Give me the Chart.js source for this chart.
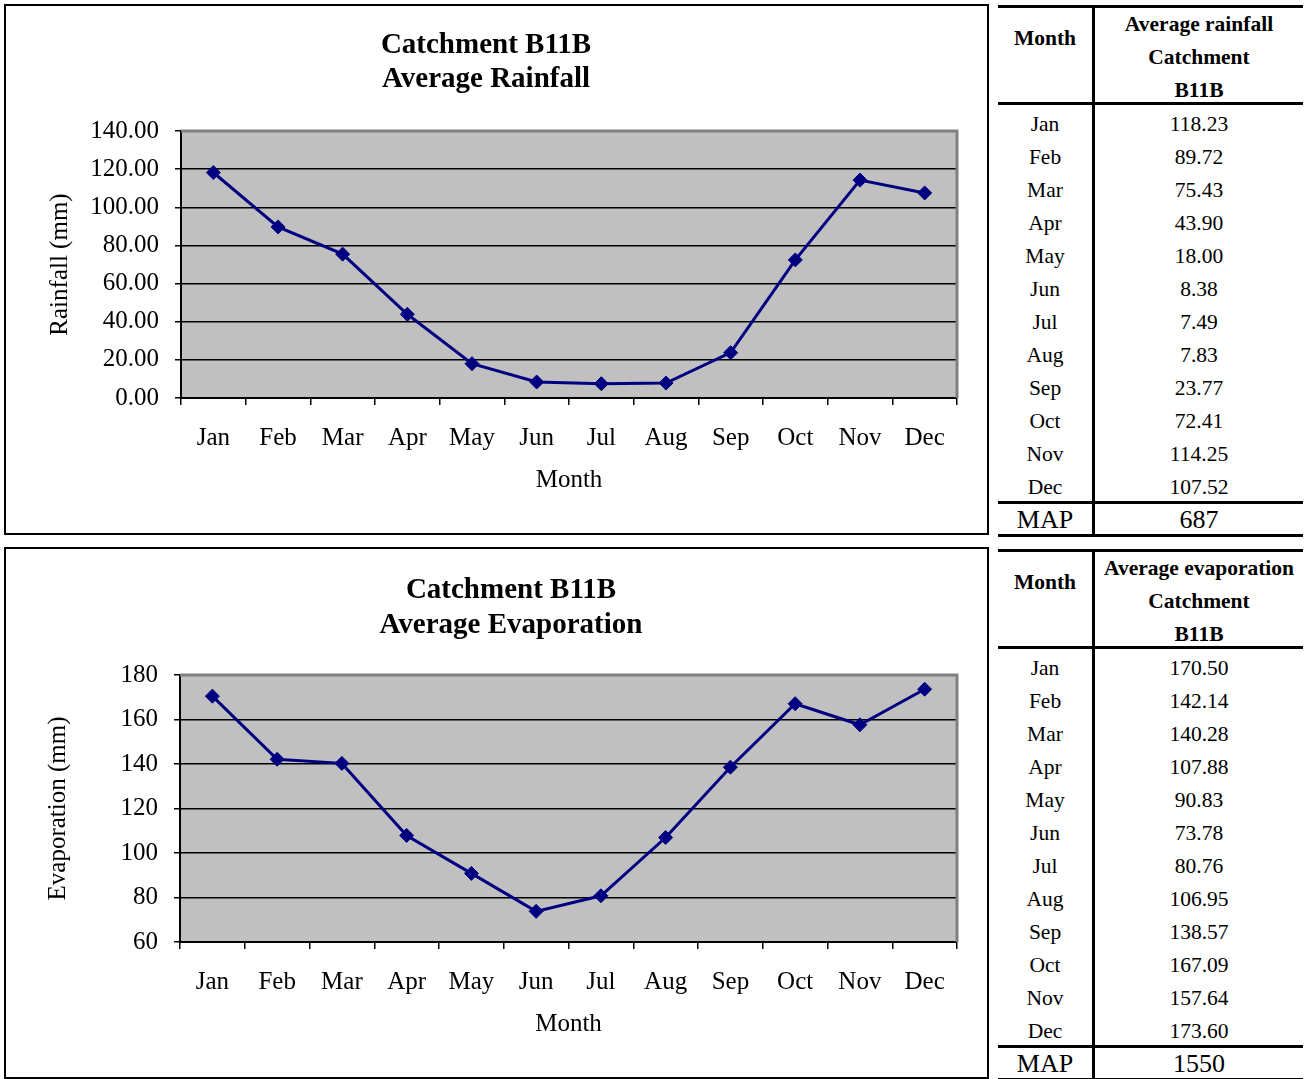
<!DOCTYPE html>
<html>
<head>
<meta charset="utf-8">
<script src="https://cdn.jsdelivr.net/npm/chart.js@4.4.0/dist/chart.umd.min.js"></script>
<style>
  body { margin: 0; background: #fff; font-family: "Liberation Serif", "Times New Roman", serif; }
  .box { position: absolute; left: 4px; width: 985px; border: 2px solid #000; box-sizing: border-box; }
  .wrap { position: absolute; left: 7px; }
  .tbl { position: absolute; left: 998px; width: 305px; border-collapse: collapse; table-layout: fixed; z-index: 2; background: #fff; }
  .tbl td { padding: 5px 0 0 0; text-align: center; height: 28px; line-height: 28px; font-size: 21.5px; color: #000; }
  .tbl td.m { width: 94px; border-right: 3px solid #000; }
  .tbl tr.head td { font-weight: bold; border-top: 3px solid #000; border-bottom: 3px solid #000; vertical-align: top; line-height: 33px; padding: 0; height: auto; }
  .tbl tr.head td div { height: 94px; }
  .tbl tr.head td.m div { padding-top: 14px; height: 80px; }
  .tbl tr.map td { font-size: 26px; border-top: 3px solid #000; border-bottom: 3px solid #000; padding: 0; height: 30px; line-height: 27px; }
</style>
</head>
<body>

<div class="box" style="top:4px;height:531px;"></div>
<div class="box" style="top:547px;height:532px;"></div>

<div class="wrap" style="top:7px;width:958px;height:525px;"><canvas id="rainChart"></canvas></div>
<div class="wrap" style="top:550px;width:1008px;height:526px;"><canvas id="evapChart"></canvas></div>

<table class="tbl" id="rainTable" style="top:5px;"></table>
<table class="tbl" id="evapTable" style="top:549px;"></table>

<script>
// data
const months = ['Jan', 'Feb', 'Mar', 'Apr', 'May', 'Jun', 'Jul', 'Aug', 'Sep', 'Oct', 'Nov', 'Dec'];
const rainfall = [118.23, 89.72, 75.43, 43.90, 18.00, 8.38, 7.49, 7.83, 23.77, 72.41, 114.25, 107.52];
const evaporation = [170.50, 142.14, 140.28, 107.88, 90.83, 73.78, 80.76, 106.95, 138.57, 167.09, 157.64, 173.60];
const rainMap = '687';
const evapMap = '1550';

const serif = 'Liberation Serif';
const navy = '#000080';

// fond gris + bord gris haut/droite de la zone de tracé
const plotFrame = {
    id: 'plotFrame',
    beforeDraw(chart) {
        const a = chart.chartArea;
        const ctx = chart.ctx;
        ctx.save();
        ctx.fillStyle = '#c0c0c0';
        ctx.fillRect(a.left, a.top, a.right - a.left, a.bottom - a.top);
        ctx.restore();
    },
    beforeDatasetsDraw(chart) {
        const a = chart.chartArea;
        const ctx = chart.ctx;
        ctx.save();
        ctx.strokeStyle = '#808080';
        ctx.lineWidth = 3;
        ctx.beginPath();
        ctx.moveTo(a.left, a.top);
        ctx.lineTo(a.right, a.top);
        ctx.lineTo(a.right, a.bottom);
        ctx.stroke();
        ctx.restore();
    }
};

function makeChart(id, opts) {
    return new Chart(document.getElementById(id), {
        type: 'line',
        data: {
            labels: months,
            datasets: [{
                data: opts.values,
                borderColor: navy,
                backgroundColor: navy,
                borderWidth: 3,
                tension: 0,
                pointStyle: 'rectRot',
                pointRadius: 7,
                pointBackgroundColor: navy,
                pointBorderColor: navy,
                pointBorderWidth: 1
            }]
        },
        options: {
            responsive: true,
            maintainAspectRatio: false,
            animation: false,
            layout: { padding: 0 },
            plugins: {
                legend: { display: false },
                tooltip: { enabled: false },
                title: {
                    display: true,
                    text: opts.title,
                    color: '#000',
                    font: { family: serif, size: 29, weight: 'bold', lineHeight: opts.titleLine },
                    padding: opts.titlePad
                }
            },
            scales: {
                x: {
                    type: 'category',
                    offset: true,
                    grid: { offset: true, drawOnChartArea: false, drawTicks: true, tickLength: 7, color: '#000', lineWidth: 1.5 },
                    border: { display: true, color: '#000', width: 2 },
                    ticks: { color: '#000', font: { family: serif, size: 25 }, padding: 18, maxRotation: 0 },
                    title: { display: true, text: 'Month', color: '#000', font: { family: serif, size: 25 }, padding: { top: 0, bottom: 37 } },
                    afterFit: s => { s.height = 134; }
                },
                y: {
                    min: opts.min,
                    max: opts.max,
                    grid: { color: '#000', lineWidth: 1.5, drawTicks: true, tickLength: 6 },
                    border: { display: true, color: '#000', width: 2 },
                    ticks: {
                        stepSize: 20,
                        color: '#000',
                        font: { family: serif, size: 25 },
                        padding: 16,
                        callback: opts.fmt
                    },
                    title: { display: true, text: opts.yTitle, color: '#000', font: { family: serif, size: 25 }, padding: { top: opts.yTitlePad, bottom: 0 } },
                    afterFit: s => { s.width = opts.yWidth; }
                },
                // axe vide à droite pour centrer le titre comme dans l'original
                yr: {
                    type: 'linear',
                    position: 'right',
                    display: true,
                    grid: { display: false },
                    border: { display: false },
                    ticks: { display: false },
                    afterFit: s => { s.width = opts.rightGap; }
                }
            }
        },
        plugins: [plotFrame]
    });
}

makeChart('rainChart', {
    values: rainfall,
    title: ['Catchment B11B', 'Average Rainfall'],
    titleLine: 34 / 29,
    titlePad: { top: 22, bottom: 34 },
    min: 0, max: 140,
    fmt: v => v.toFixed(2),
    yTitle: 'Rainfall (mm)',
    yTitlePad: 38,
    yWidth: 174,
    rightGap: 7
});

makeChart('evapChart', {
    values: evaporation,
    title: ['Catchment B11B', 'Average Evaporation'],
    titleLine: 35 / 29,
    titlePad: { top: 23, bottom: 32 },
    min: 60, max: 180,
    fmt: v => v,
    yTitle: 'Evaporation (mm)',
    yTitlePad: 36,
    yWidth: 173,
    rightGap: 58
});

function fillTable(id, heading, values, total) {
    const t = document.getElementById(id);
    let html = '<tr class="head"><td class="m"><div>Month</div></td><td><div>' + heading + '<br>Catchment<br>B11B</div></td></tr>';
    months.forEach((m, i) => {
        html += '<tr><td class="m">' + m + '</td><td>' + values[i].toFixed(2) + '</td></tr>';
    });
    html += '<tr class="map"><td class="m">MAP</td><td>' + total + '</td></tr>';
    t.innerHTML = html;
}

fillTable('rainTable', 'Average rainfall', rainfall, rainMap);
fillTable('evapTable', 'Average evaporation', evaporation, evapMap);
</script>
</body>
</html>
